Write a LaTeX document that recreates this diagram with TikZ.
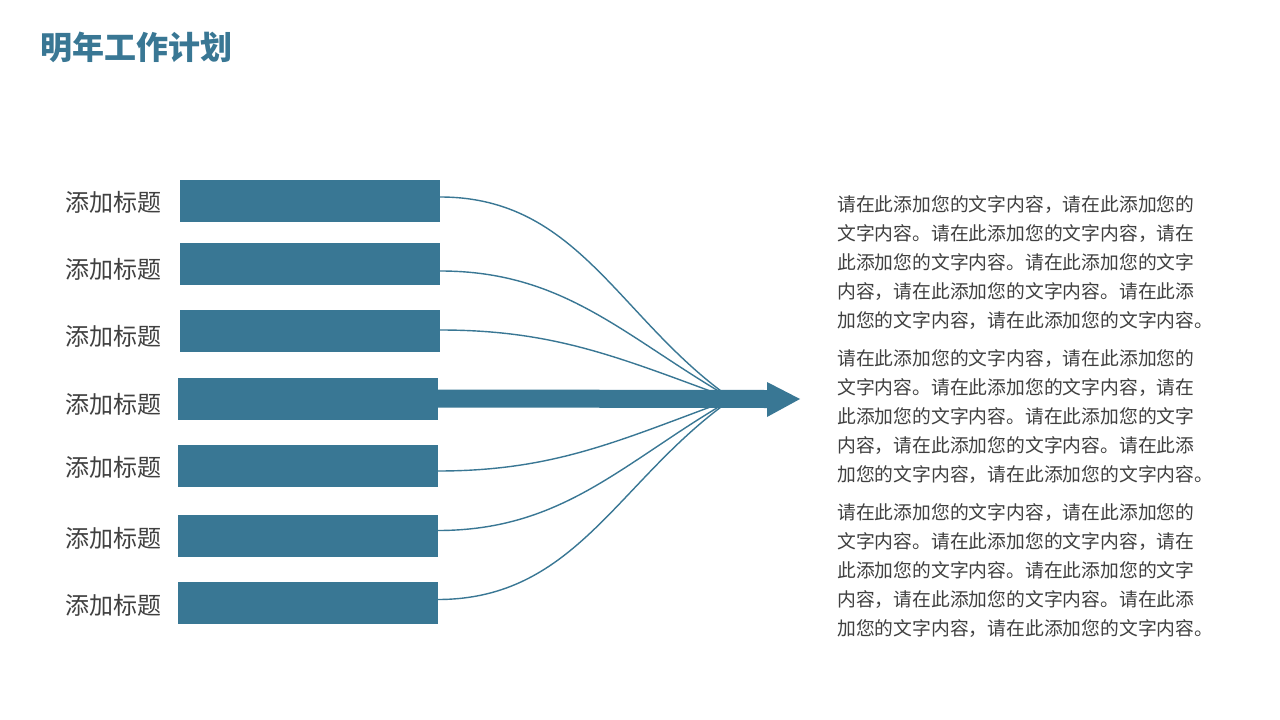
\documentclass[tikz,border=0pt]{standalone}
\usepackage{fontspec}
\usepackage{tikz}
\usepackage{xcolor}
\usetikzlibrary{arrows.meta}
\newfontfamily\cjk{Noto Sans CJK SC}
\definecolor{barblue}{RGB}{57,119,148}
\definecolor{textgray}{RGB}{64,64,64}

\begin{document}
\begin{tikzpicture}[x=1pt, y=-1pt,
    bar/.style={fill=barblue, minimum width=260pt, minimum height=42pt, inner sep=0pt},
    headtext/.style={font=\cjk\fontsize{24}{24}\selectfont, text=textgray, anchor=east, inner sep=0pt},
    link/.style={draw=barblue, line width=1.4pt},
    para/.style={font=\cjk\fontsize{18.8}{29}\selectfont, text=textgray, align=left, anchor=north west, inner sep=0pt}]
    % Frame
    \fill[white] (0,0) rectangle (1280,720);
    \useasboundingbox (0,0) rectangle (1280,720);

    % Title
    \node[font=\cjk\bfseries\fontsize{32}{32}\selectfont, text=barblue, anchor=base west, inner sep=0pt] (title) at (40,59) {明年工作计划};

    % Bars
    \foreach \n/\x/\y in {1/310/201, 2/310/264, 3/310/331, 4/307.5/398.5, 5/307.5/466, 6/307.5/535.5, 7/307.5/602.5}
        \node[bar] (bar\n) at (\x,\y) {};

    % Bar labels
    \foreach \n/\y in {1/202, 2/269, 3/336, 4/404, 5/467, 6/538, 7/605}
        \node[headtext] (lab\n) at (162,\y) {添加标题};

    % Curves into the arrow
    \coordinate (hub) at (732,399);
    \foreach \n/\dy/\a in {1/4/145, 2/-7/150, 3/1/160, 5/-5/200, 6/5/210, 7/3/215}
        \draw[link] ([yshift=\dy pt]bar\n.east) to[out=0, in=\a] (hub);

    % Arrow
    \coordinate (shaftend) at (767,399);
    \coordinate (tip) at (800,399);
    \fill[barblue] ([yshift=9pt]bar4.east) -- ([yshift=9pt]shaftend) -- ([yshift=17pt]shaftend) -- (tip)
        -- ([yshift=-18pt]shaftend) -- ([yshift=-9pt]shaftend) -- ([yshift=-9pt]bar4.east) -- cycle;

    % Text blocks
    \foreach \n/\y in {1/195, 2/349, 3/503}
        \node[para] (text\n) at (837,\y) {请在此添加您的文字内容，请在此添加您的\\文字内容。请在此添加您的文字内容，请在\\此添加您的文字内容。请在此添加您的文字\\内容，请在此添加您的文字内容。请在此添\\加您的文字内容，请在此添加您的文字内容。};
\end{tikzpicture}
\end{document}
